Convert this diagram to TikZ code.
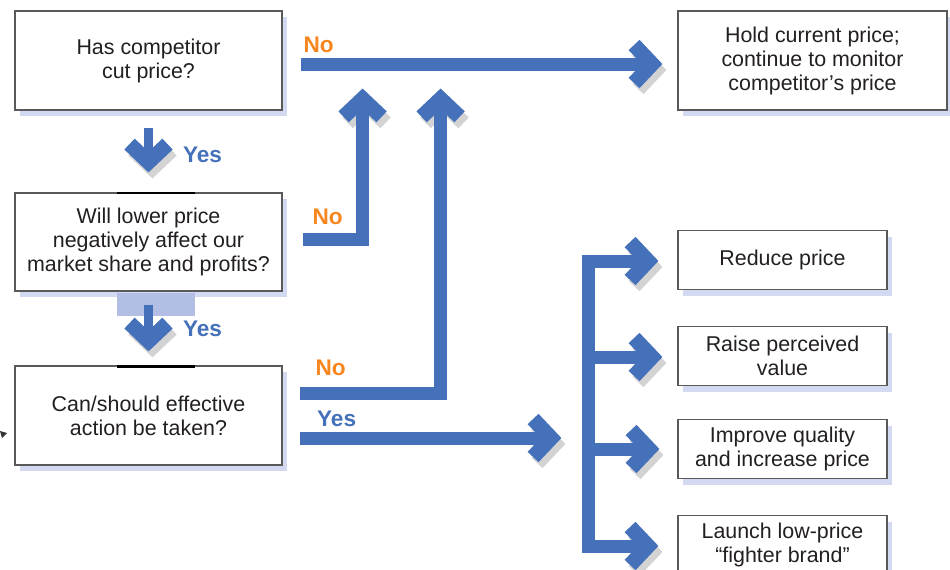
\documentclass[tikz,border=0pt]{standalone}
\usepackage{fontspec}
\setmainfont{Liberation Sans}
\usetikzlibrary{arrows.meta,calc,shadows}

\definecolor{flowblue}{RGB}{68,113,185}
\definecolor{noorange}{RGB}{247,134,31}
\definecolor{boxshade}{RGB}{170,180,230}
\definecolor{textgrey}{RGB}{35,31,32}
\definecolor{paleblue}{RGB}{178,190,228}

\tikzset{
  qbox/.style={draw=black!65,line width=0.6pt,fill=white,align=center,
    text=textgrey,font=\fontsize{10.7}{12}\selectfont,inner sep=0pt,
    drop shadow={shadow xshift=2.5pt,shadow yshift=-3pt,fill=boxshade,opacity=.5}},
  flow/.style={draw=flowblue,line width=6.5pt,line join=miter,
    -{Straight Barb[length=9pt,width=19pt,line width=7.5pt,sharp]},
    preaction={draw=black!50,opacity=.35,transform canvas={shift={(2pt,-3pt)}}}},
  nolabel/.style={text=noorange,font=\bfseries\fontsize{11.3}{12}\selectfont,inner sep=0pt},
  yeslabel/.style={text=flowblue,font=\bfseries\fontsize{11.3}{12}\selectfont,inner sep=0pt}
}

\begin{document}
\begin{tikzpicture}[x=0.5pt,y=-0.5pt]
\useasboundingbox (0,0) rectangle (950,569);

% 左列：三个判断框
\node[qbox,minimum width=133.5pt,minimum height=49.5pt] (q1) at (148.5,60.5)
  {Has competitor\\cut price?};
\node[qbox,minimum width=133.5pt,minimum height=49pt] (q2) at (148.5,242)
  {Will lower price\\negatively affect our\\market share and profits?};
\node[qbox,minimum width=133.5pt,minimum height=49.5pt] (q3) at (148.5,415.5)
  {Can/should effective\\action be taken?};

% 右列：结果框
\node[qbox,minimum width=134.5pt,minimum height=49.5pt] (hold) at (812.5,60.5)
  {Hold current price;\\continue to monitor\\competitor’s price};
\node[qbox,minimum width=104.5pt,minimum height=29.5pt] (reduce) at (782.5,260)
  {Reduce price};
\node[qbox,minimum width=104.5pt,minimum height=29.5pt] (raise) at (782.5,356)
  {Raise perceived\\value};
\node[qbox,minimum width=104.5pt,minimum height=29.5pt] (improve) at (782.5,449)
  {Improve quality\\and increase price};
\node[qbox,minimum width=104.5pt,minimum height=29.5pt] (launch) at (782.5,545)
  {Launch low-price\\“fighter brand”};

% 框上的小记号
\draw[line width=1.1pt] (117,193) -- (195,193);
\draw[line width=1.1pt] (117,366.5) -- (195,366.5);
\fill[paleblue] (117,293) rectangle (195,316);
\fill[black!80] (0,431) -- (7,433) -- (2,438) -- cycle;

% Yes 向下
\draw[flow,line width=4.5pt] ($(q1.south)+(0,17)$) -- ($(q2.north)+(0,-20)$);
\draw[flow,line width=4.5pt] ($(q2.south)+(0,13)$) -- ($(q3.north)+(0,-14)$);
\node[yeslabel] (y1) at ($(q1.south)+(54,44)$) {Yes};
\node[yeslabel] (y2) at ($(q2.south)+(54,37)$) {Yes};

% No 分支
\draw[flow] ($(q1.east)+(18,3.5)$) -- ($(hold.west)+(-15,3.5)$);
\draw[flow] ($(q2.east)+(20,-3)$) -| ($(q1.east)+(80,28)$);
\draw[flow] ($(q3.east)+(17,-22.5)$) -| ($(q1.east)+(158,28)$);
\node[nolabel] (n1) at ($(q1.east)+(36,-16)$) {No};
\node[nolabel] (n2) at ($(q2.east)+(45,-25)$) {No};
\node[nolabel] (n3) at ($(q3.east)+(48,-47.5)$) {No};

% Yes：行动
\coordinate (fork) at ($(reduce.west)+(-89,1)$);
\draw[flow] ($(q3.east)+(17,22.5)$) -- ($(fork |- q3.east)+(-27,22.5)$);
\node[yeslabel] (y3) at ($(q3.east)+(54,3.5)$) {Yes};

% 四个选项
\draw[flow] ($(launch.west)+(-89,1)$) |- ($(reduce.west)+(-19,1)$);
\draw[flow] ($(reduce.west)+(-89,1)$) |- ($(launch.west)+(-19,1)$);
\draw[flow] ($(raise.west)+(-89,1)$) -- ($(raise.west)+(-15,1)$);
\draw[flow] ($(improve.west)+(-89,0)$) -- ($(improve.west)+(-18,0)$);

\end{tikzpicture}
\end{document}
